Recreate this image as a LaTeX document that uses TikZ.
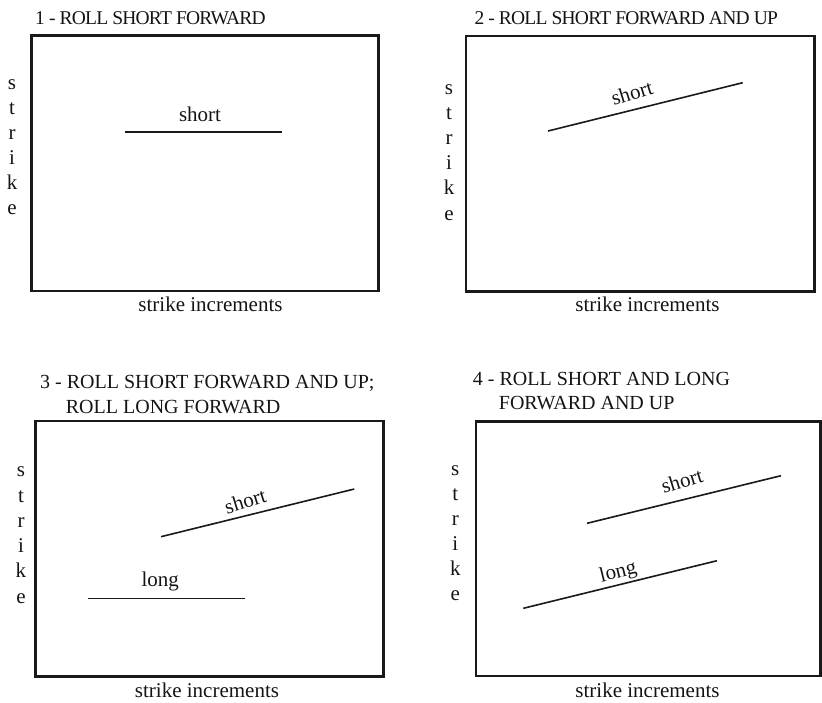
\documentclass[tikz,border=0pt]{standalone}
\usepackage{fontspec}
\setmainfont{Liberation Serif}
\newfontfamily\tightfont[LetterSpace=-4]{Liberation Serif}
\begin{document}
\begin{tikzpicture}[x=1pt,y=-1pt,
  frame/.style={draw=black!90,line width=2.8pt},
  curve/.style={draw=black!90,line width=1.6pt},
  body/.style={inner sep=0pt,anchor=base,font=\fontsize{21}{25}\selectfont,text=black!92},
  ttlA/.style={inner sep=0pt,anchor=base west,font=\tightfont\fontsize{19.5}{24}\selectfont,text=black!92},
  ttlB/.style={inner sep=0pt,anchor=base west,font=\fontsize{20}{24}\selectfont,text=black!92},
  lbl/.style={inner sep=0pt,anchor=base,font=\fontsize{21}{25}\selectfont,text=black!92}]
\useasboundingbox (0,0) rectangle (822,702);

% ---------- Panel 1 ----------
\node[ttlA] (t1) at (35,24) {1 - ROLL SHORT FORWARD};
\draw[frame] (31.3,35.7) rectangle (378.7,291);
\coordinate (p1a) at (125,131.7);
\coordinate (p1b) at (281.7,131.7);
\draw[curve] (p1a) -- (p1b);
\node[lbl] (l1) at (200,121.7) {short};
\foreach \c [count=\i from 0] in {s,t,r,i,k,e}
  \node[body] (v1\i) at (12,89.3+25*\i) {\c};
\node[body] (x1) at (210.5,311.7) {strike increments};

% ---------- Panel 2 ----------
\node[ttlA] (t2) at (474.3,24) {2 - ROLL SHORT FORWARD AND UP};
\draw[frame] (466,36) rectangle (814.3,291.7);
\coordinate (p2a) at (548,131);
\coordinate (p2b) at (742.7,82.7);
\draw[curve] (p2a) -- (p2b);
\node[lbl,rotate=17] (l2) at (634,99.5) {short};
\foreach \c [count=\i from 0] in {s,t,r,i,k,e}
  \node[body] (v2\i) at (449,94+25.2*\i) {\c};
\node[body] (x2) at (647.5,311.7) {strike increments};

% ---------- Panel 3 ----------
\node[ttlB] (t3a) at (40,388.3) {3 - ROLL SHORT FORWARD AND UP;};
\node[ttlB] (t3b) at (65.7,413.3) {ROLL LONG FORWARD};
\draw[frame] (35.7,421) rectangle (383.3,676.7);
\coordinate (p3a) at (161,536.7);
\coordinate (p3b) at (354.3,489);
\draw[curve] (p3a) -- (p3b);
\node[lbl,rotate=17] (l3) at (247.3,508) {short};
\coordinate (p3c) at (88.3,598.3);
\coordinate (p3d) at (245,598.3);
\draw[curve] (p3c) -- (p3d);
\node[lbl] (l3b) at (160.3,586) {long};
\foreach \c [count=\i from 0] in {s,t,r,i,k,e}
  \node[body] (v3\i) at (21,476.7+25.3*\i) {\c};
\node[body] (x3) at (207,697.3) {strike increments};

% ---------- Panel 4 ----------
\node[ttlB] (t4a) at (472.7,385) {4 - ROLL SHORT AND LONG};
\node[ttlB] (t4b) at (498.7,409.3) {FORWARD AND UP};
\draw[frame] (476,421.7) rectangle (820.3,676);
\coordinate (p4a) at (587,523.3);
\coordinate (p4b) at (781,475.7);
\draw[curve] (p4a) -- (p4b);
\node[lbl,rotate=17] (l4) at (684,487.5) {short};
\coordinate (p4c) at (523.3,608.3);
\coordinate (p4d) at (717,560.7);
\draw[curve] (p4c) -- (p4d);
\node[lbl,rotate=14] (l4b) at (619.5,577.5) {long};
\foreach \c [count=\i from 0] in {s,t,r,i,k,e}
  \node[body] (v4\i) at (455.3,475+25.1*\i) {\c};
\node[body] (x4) at (647.5,697.3) {strike increments};
\end{tikzpicture}
\end{document}
